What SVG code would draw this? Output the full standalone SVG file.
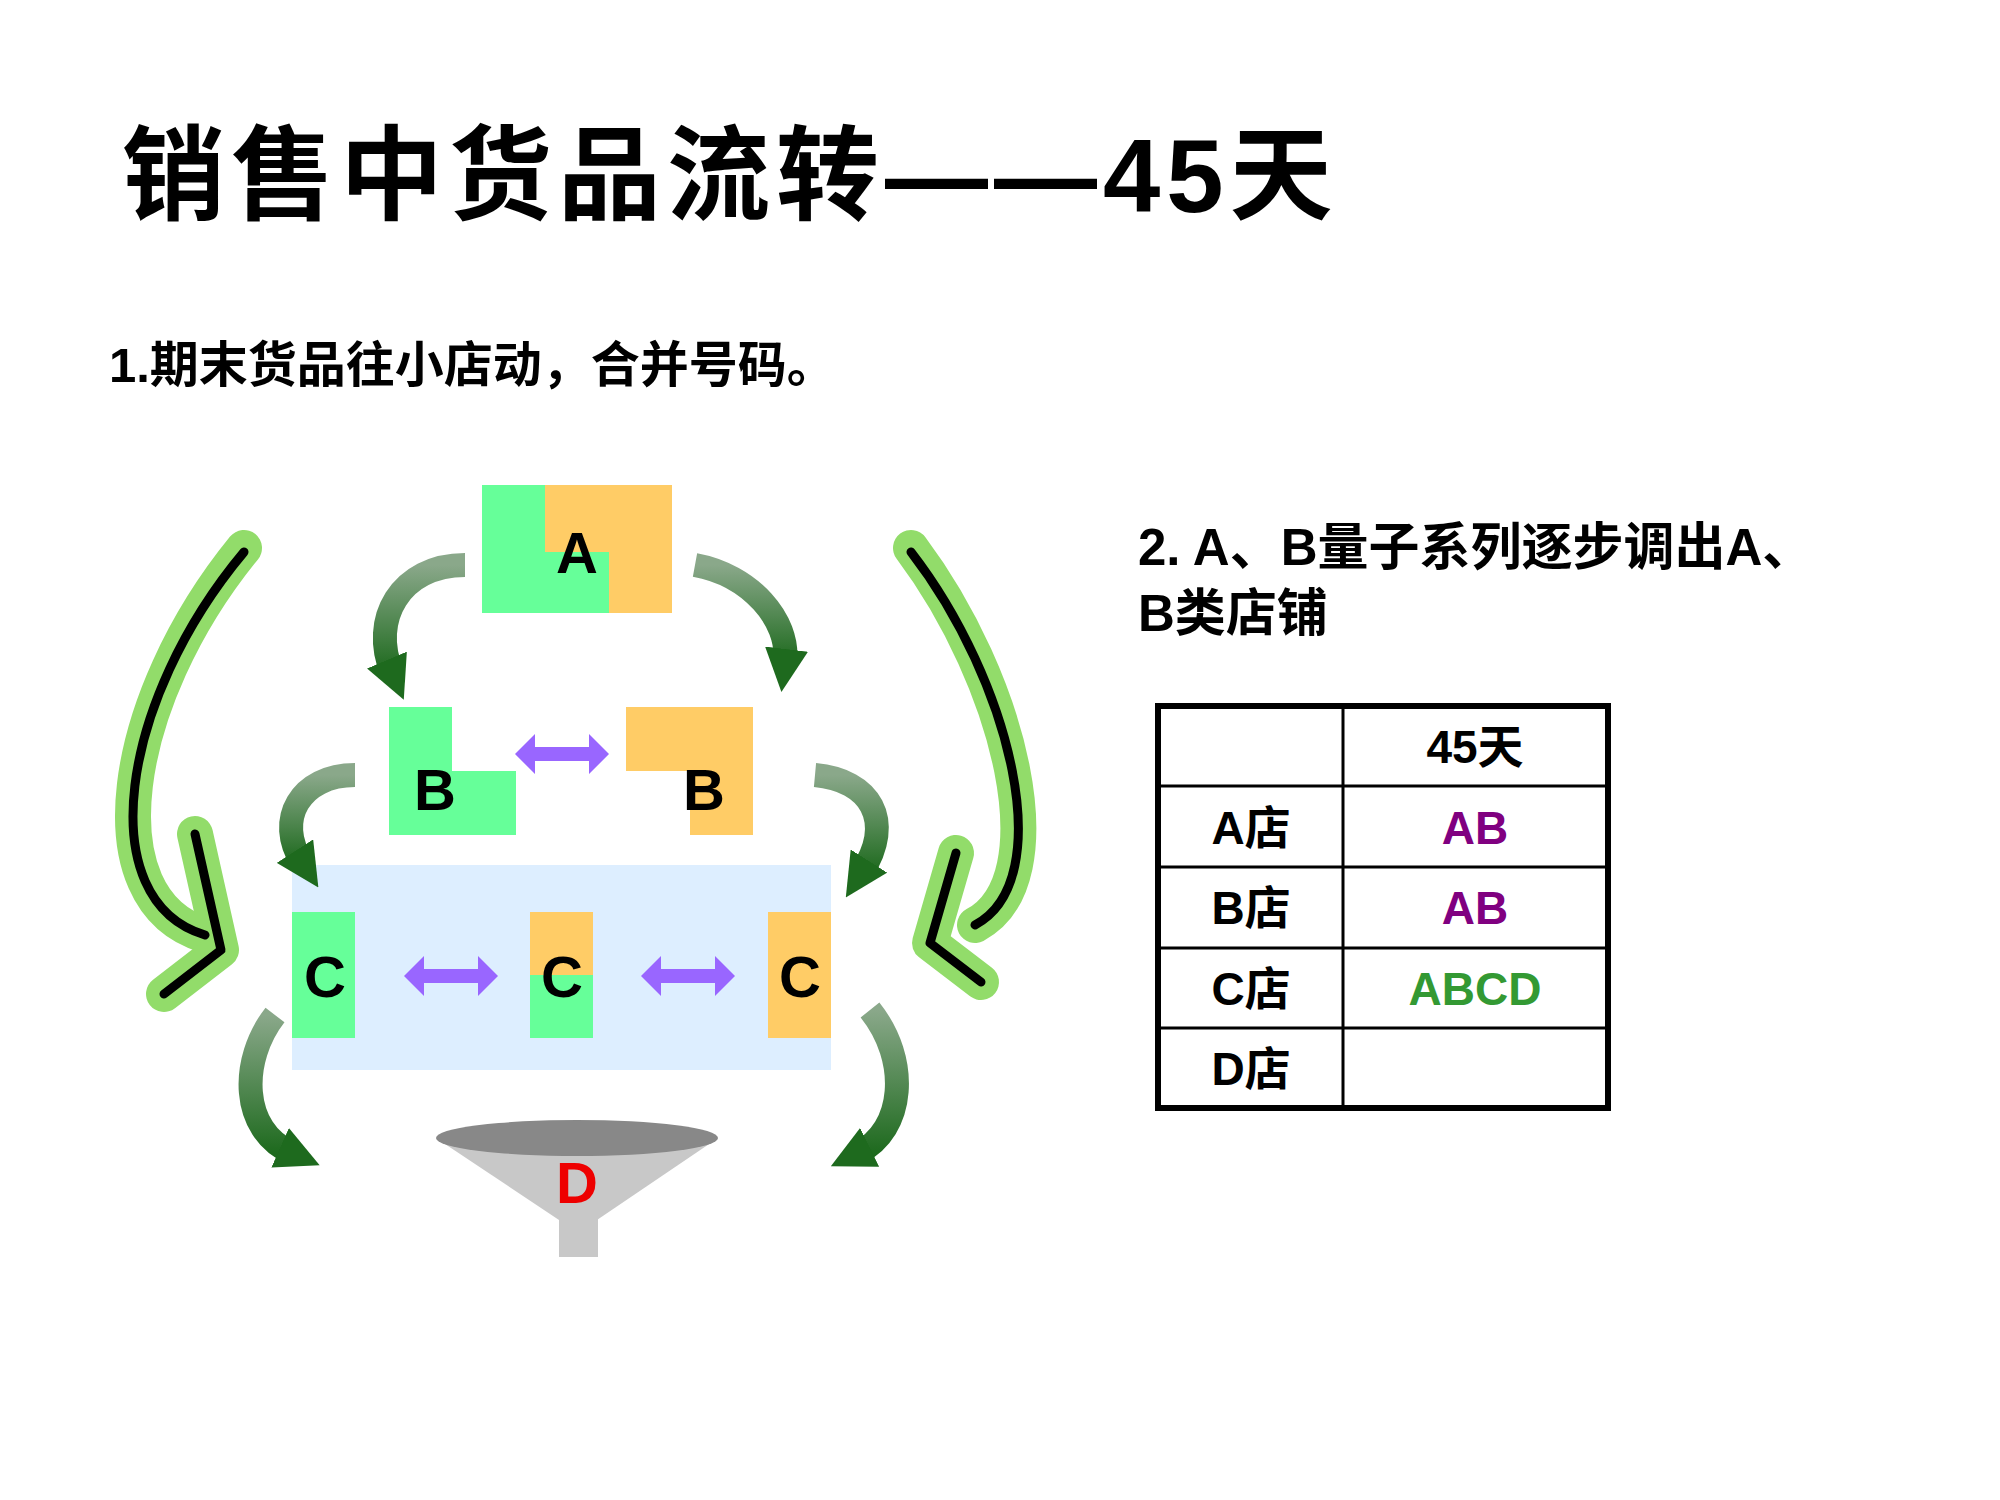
<svg xmlns="http://www.w3.org/2000/svg" width="2000" height="1500" viewBox="0 0 2000 1500">
<style>
.t{font-family:"Liberation Sans","Noto Sans CJK SC",sans-serif;font-weight:bold;fill:#000}
.lbl{font-family:"Liberation Sans",sans-serif;font-weight:bold;font-size:58px;text-anchor:middle;dominant-baseline:central}
.g{fill:#66ff99}.o{fill:#ffcc66}
.sa{fill:none;stroke:url(#dg);stroke-width:24}
.big{fill:none;stroke:#92dc6a;stroke-width:36;stroke-linecap:round;stroke-linejoin:round}
.bigk{fill:none;stroke:#000;stroke-width:9;stroke-linecap:round;stroke-linejoin:round}
.cell{font-family:"Liberation Sans","Noto Sans CJK SC",sans-serif;font-weight:bold;font-size:46px;text-anchor:middle;dominant-baseline:central}
.pa{fill:#9966ff}
</style>
<defs>
<linearGradient id="dg" x1="0" y1="0" x2="0" y2="1"><stop offset="0" stop-color="#8aa88a"/><stop offset="1" stop-color="#1e6a1e"/></linearGradient>
<marker id="ah" viewBox="0 0 10 10" refX="3" refY="5" markerWidth="1.8" markerHeight="1.8" orient="auto"><path d="M0,0 L10,5 L0,10 z" fill="#1e6a1e"/></marker>
<path id="pa" d="M0,0 L20,-20 L20,-7 L74,-7 L74,-20 L94,0 L74,20 L74,7 L20,7 L20,20 z"/>
</defs>
<text class="t" x="122" y="212" font-size="103" letter-spacing="6">销售中货品流转——45天</text>
<text class="t" x="109" y="382" font-size="49">1.期末货品往小店动，合并号码。</text>
<text class="t" x="1138" y="565" font-size="51">2. A、B量子系列逐步调出A、</text>
<text class="t" x="1138" y="631" font-size="51">B类店铺</text>
<rect x="292" y="865" width="539" height="205" fill="#ddeeff"/>
<g id="nodeA"><rect class="g" x="482" y="485" width="127" height="128"/><rect class="o" x="545" y="485" width="127" height="67"/><rect class="o" x="609" y="552" width="63" height="61"/><text class="lbl" x="577" y="552">A</text></g>
<g id="nodeB1"><rect class="g" x="389" y="707" width="63" height="128"/><rect class="g" x="452" y="771" width="64" height="64"/><text class="lbl" x="435" y="789">B</text></g>
<g id="nodeB2"><rect class="o" x="626" y="707" width="127" height="64"/><rect class="o" x="690" y="771" width="63" height="64"/><text class="lbl" x="704" y="789">B</text></g>
<g id="nodeC1"><rect class="g" x="292" y="912" width="63" height="126"/><text class="lbl" x="325" y="976">C</text></g>
<g id="nodeC2"><rect class="o" x="530" y="912" width="63" height="63"/><rect class="g" x="530" y="975" width="63" height="63"/><text class="lbl" x="562" y="976">C</text></g>
<g id="nodeC3"><rect class="o" x="768" y="912" width="63" height="126"/><text class="lbl" x="800" y="976">C</text></g>
<g id="nodeD"><rect x="559" y="1200" width="39" height="57" fill="#c8c8c8"/><polygon points="436,1138 718,1138 594,1222 562,1222" fill="#c8c8c8"/><ellipse cx="577" cy="1138" rx="141" ry="18" fill="#888"/><text class="lbl" x="577" y="1182" style="fill:#ee0000">D</text></g>
<g id="connectors">
<use href="#pa" class="pa" x="515" y="754"/>
<use href="#pa" class="pa" x="404" y="976"/>
<use href="#pa" class="pa" x="641" y="976"/>
<path class="sa" d="M465,565 C400,565 370,620 392,672" marker-end="url(#ah)"/>
<path class="sa" d="M695,565 C750,575 790,620 785,662" marker-end="url(#ah)"/>
<path class="sa" d="M355,775 C300,775 275,820 302,862" marker-end="url(#ah)"/>
<path class="sa" d="M815,775 C870,780 895,820 862,872" marker-end="url(#ah)"/>
<path class="sa" d="M275,1015 C240,1060 240,1130 292,1153" marker-end="url(#ah)"/>
<path class="sa" d="M870,1010 C910,1060 905,1130 858,1153" marker-end="url(#ah)"/>
<path class="big" d="M244,548 C120,700 90,900 205,935"/>
<path class="big" d="M195,834 L221,950 L164,994"/>
<path class="bigk" d="M244,552 C120,700 90,900 205,935"/>
<path class="bigk" d="M195,834 L221,950 L164,994"/>
<path class="big" d="M911,548 C1010,680 1060,880 975,925"/>
<path class="big" d="M956,853 L930,943 L981,982"/>
<path class="bigk" d="M911,552 C1010,680 1060,880 975,925"/>
<path class="bigk" d="M956,853 L930,943 L981,982"/>
</g>
<g id="table">
<rect x="1158" y="706" width="450" height="402" fill="#fff" stroke="#000" stroke-width="6"/>
<g stroke="#000" stroke-width="3"><line x1="1343" y1="706" x2="1343" y2="1108"/><line x1="1158" y1="786" x2="1608" y2="786"/><line x1="1158" y1="867" x2="1608" y2="867"/><line x1="1158" y1="948" x2="1608" y2="948"/><line x1="1158" y1="1028" x2="1608" y2="1028"/></g>
<text class="cell" x="1475" y="747">45天</text>
<text class="cell" x="1251" y="828">A店</text><text class="cell" x="1475" y="828" fill="#800080">AB</text>
<text class="cell" x="1251" y="908">B店</text><text class="cell" x="1475" y="908" fill="#800080">AB</text>
<text class="cell" x="1251" y="989">C店</text><text class="cell" x="1475" y="989" fill="#339933">ABCD</text>
<text class="cell" x="1251" y="1069">D店</text>
</g>
</svg>
